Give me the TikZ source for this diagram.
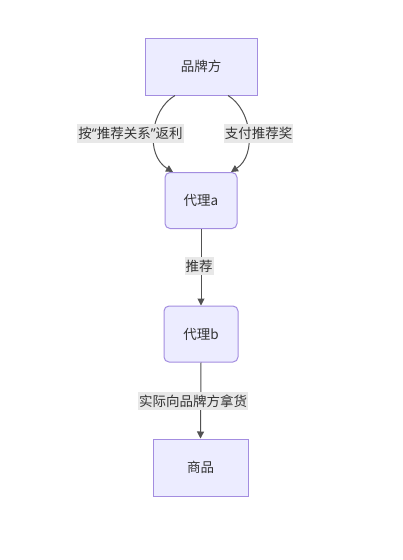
\documentclass[tikz,border=0pt]{standalone}
\usepackage{fontspec}
\setmainfont{Noto Sans CJK SC}
\newfontfamily\narrowq{Noto Sans}
\usetikzlibrary{arrows.meta}
\definecolor{nodefill}{HTML}{ECECFF}
\definecolor{nodeline}{HTML}{A38DE0}
\definecolor{txt}{HTML}{333333}
\definecolor{lblbg}{HTML}{E8E8E8}
\begin{document}
\begin{tikzpicture}[x=1pt,y=-1pt,
  box/.style={draw=nodeline, fill=nodefill, line width=1pt, text=txt,
    font=\fontsize{13.5}{16}\selectfont, inner sep=0pt},
  lbl/.style={fill=lblbg, text=txt, font=\fontsize{13.5}{16}\selectfont,
    inner xsep=1pt, inner ysep=3pt},
  edge/.style={draw=txt!85, line width=1pt, -{Triangle[length=7pt,width=7pt]}}]
\useasboundingbox[fill=white] (0,0) rectangle (402,560);
\node[box, minimum width=112pt, minimum height=57pt] (brand) at (201,66.5) {品牌方};
\node[box, rounded corners=5pt, minimum width=72pt, minimum height=56pt] (a) at (201,200.5) {代理a};
\node[box, rounded corners=5pt, minimum width=74pt, minimum height=56pt] (b) at (201,334) {代理b};
\node[box, minimum width=95pt, minimum height=57pt] (goods) at (200.5,467.5) {商品};
\draw[edge] ([xshift=-26pt]brand.south) .. controls (150,110) and (145,155) .. ([xshift=-28pt]a.north);
\draw[edge] ([xshift=27pt]brand.south) .. controls (252,110) and (257,155) .. ([xshift=30pt]a.north);
\draw[edge] (a.south) -- (b.north);
\draw[edge] (b.south) -- (goods.north);
\node[lbl] (l1) at (130.5,133.5) {按{\narrowq “}推荐关系{\narrowq ”}返利};
\node[lbl] (l2) at (258.5,133.5) {支付推荐奖};
\node[lbl] (l3) at (199,266) {推荐};
\node[lbl] (l4) at (193,401) {实际向品牌方拿货};
\end{tikzpicture}
\end{document}
